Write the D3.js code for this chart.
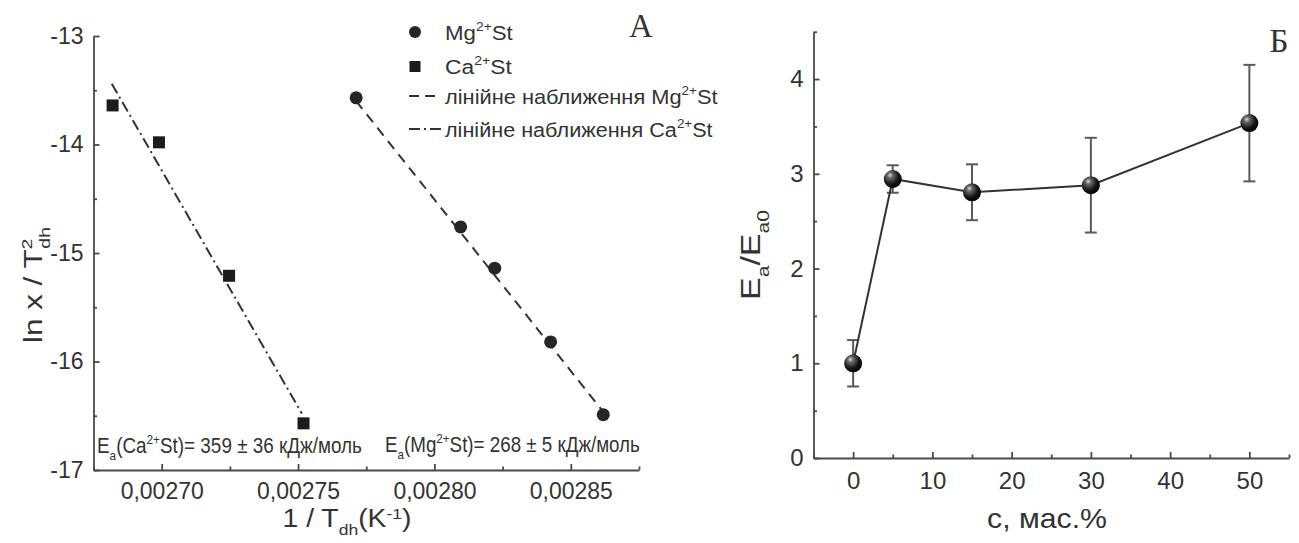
<!DOCTYPE html>
<html>
<head>
<meta charset="utf-8">
<script src="https://cdn.jsdelivr.net/npm/d3@7"></script>
<style>
  body { margin: 0; background: #fff; }
  svg { display: block; font-family: "Liberation Sans", Arial, sans-serif; }
  .axis path, .axis line { stroke: #4a4a4a; stroke-width: 1.8; }
  .axis text { fill: #333; font-family: "Liberation Sans", Arial, sans-serif; }
</style>
</head>
<body>
<script>
// panel A: ln x / T^2 vs 1/T
var caX = [0.002682, 0.002699, 0.0027247, 0.002752];
var caY = [-13.64, -13.98, -15.21, -16.57];
var mgX = [0.0027713, 0.0028096, 0.0028221, 0.0028426, 0.0028619];
var mgY = [-13.57, -14.76, -15.14, -15.82, -16.49];
// linear fit endpoints as drawn
var caFitX = [0.0026817, 0.0027514];
var caFitY = [-13.44, -16.48];
var mgFitX = [0.0027713, 0.0028618];
var mgFitY = [-13.60, -16.46];
var aXTicks = [0.0027, 0.00275, 0.0028, 0.00285];
var aXMinor = [0.002675, 0.002725, 0.002775, 0.002825, 0.002875];
var aYTicks = [-17, -16, -15, -14, -13];
var aYMinor = [-16.5, -15.5, -14.5, -13.5];

// panel Б: Ea/Ea0 vs concentration
var conc = [0, 5, 15, 30, 50];
var ratio = [1.0, 2.945, 2.805, 2.88, 3.535];
var ratioErr = [0.245, 0.145, 0.295, 0.50, 0.615];
var bXTicks = [0, 10, 20, 30, 40, 50];
var bXMinor = [-5, 5, 15, 25, 35, 45, 55];
var bYTicks = [0, 1, 2, 3, 4];
var bYMinor = [0.5, 1.5, 2.5, 3.5, 4.5];

var w = 1299, h = 543;
var svg = d3.select("body").append("svg").attr("width", w).attr("height", h);

var defs = svg.append("defs");
var grad = defs.append("radialGradient").attr("id", "ball")
    .attr("cx", "38%").attr("cy", "35%").attr("r", "70%").attr("fx", "35%").attr("fy", "28%");
grad.append("stop").attr("offset", "0%").attr("stop-color", "#dcdcdc");
grad.append("stop").attr("offset", "22%").attr("stop-color", "#6a6a6a");
grad.append("stop").attr("offset", "65%").attr("stop-color", "#141414");
grad.append("stop").attr("offset", "100%").attr("stop-color", "#000");

// text with sub/superscript parts, squeezed to a target width
function richText(x, y, rot, anchor, width, parts, size, family, supRaise) {
  var g = svg.append("g");
  var t = g.append("text").attr("text-anchor", anchor).attr("fill", "#333")
      .attr("font-size", size).attr("font-family", family || null);
  var off = 0;
  var up = supRaise || 0.42;
  parts.forEach(function(p) {
    var k = p[1];
    var target = k === "sub" ? size * 0.32 : k === "sup" ? -size * up : 0;
    var ts = t.append("tspan").attr("dy", target - off)
        .attr("font-size", k ? size * 0.62 : size).text(p[0]);
    if (p[2]) ts.attr("dx", p[2]);
    off = target;
  });
  var sx = 1;
  if (width) sx = width / t.node().getBBox().width;
  g.attr("transform", "translate(" + x + "," + y + ") rotate(" + rot + ") scale(" + sx + ",1)");
  return g;
}

// ---------- panel A ----------
var xA = d3.scaleLinear().domain([0.002675, 0.002875]).range([93.5, 639]);
var yA = d3.scaleLinear().domain([-17, -13]).range([470, 36]);

svg.append("g").attr("class", "axis").attr("transform", "translate(0,470)")
    .call(d3.axisBottom(xA).tickValues(aXTicks).tickSizeInner(-6).tickSizeOuter(0).tickPadding(13)
      .tickFormat(function(d) { return d3.format(".5f")(d).replace(".", ","); }))
    .call(function(g) { g.selectAll("text").attr("font-size", 23); });
svg.append("g").attr("class", "axis").attr("transform", "translate(0,470)")
    .call(d3.axisBottom(xA).tickValues(aXMinor).tickSizeInner(-3.5).tickSizeOuter(0).tickFormat(""))
    .select(".domain").remove();
svg.append("g").attr("class", "axis").attr("transform", "translate(93.5,0)")
    .call(d3.axisLeft(yA).tickValues(aYTicks).tickSizeInner(-6).tickSizeOuter(0).tickPadding(10)
      .tickFormat(function(d) { return String(d); }))
    .call(function(g) { g.selectAll("text").attr("font-size", 23); });
svg.append("g").attr("class", "axis").attr("transform", "translate(93.5,0)")
    .call(d3.axisLeft(yA).tickValues(aYMinor).tickSizeInner(-3.5).tickSizeOuter(0).tickFormat(""))
    .select(".domain").remove();

var lineA = d3.line().x(function(d) { return xA(d[0]); }).y(function(d) { return yA(d[1]); });
svg.append("path").datum(d3.zip(caFitX, caFitY)).attr("d", lineA)
    .attr("fill", "none").attr("stroke", "#333").attr("stroke-width", 2)
    .attr("stroke-dasharray", "11,4,2,4");
svg.append("path").datum(d3.zip(mgFitX, mgFitY)).attr("d", lineA)
    .attr("fill", "none").attr("stroke", "#333").attr("stroke-width", 2)
    .attr("stroke-dasharray", "10,7");

svg.selectAll(".ca").data(d3.zip(caX, caY)).enter().append("rect").attr("class", "ca")
    .attr("x", function(d) { return xA(d[0]) - 6; })
    .attr("y", function(d) { return yA(d[1]) - 6; })
    .attr("width", 12).attr("height", 12).attr("fill", "#1c1c1c");
svg.selectAll(".mg").data(d3.zip(mgX, mgY)).enter().append("circle").attr("class", "mg")
    .attr("cx", function(d) { return xA(d[0]); })
    .attr("cy", function(d) { return yA(d[1]); })
    .attr("r", 6.5).attr("fill", "#262626");

// legend
svg.append("circle").attr("cx", 415).attr("cy", 32).attr("r", 6).attr("fill", "#262626");
svg.append("rect").attr("x", 409.5).attr("y", 61).attr("width", 11).attr("height", 11).attr("fill", "#1c1c1c");
svg.append("line").attr("x1", 409).attr("x2", 440).attr("y1", 96).attr("y2", 96)
    .attr("stroke", "#333").attr("stroke-width", 2).attr("stroke-dasharray", "10,6");
svg.append("line").attr("x1", 409).attr("x2", 441).attr("y1", 129).attr("y2", 129)
    .attr("stroke", "#333").attr("stroke-width", 2).attr("stroke-dasharray", "11,4,2,4");
richText(445, 40, 0, "start", 68, [["Mg"], ["2+", "sup"], ["St"]], 21);
richText(445, 74, 0, "start", 67, [["Ca"], ["2+", "sup"], ["St"]], 21);
richText(445, 104, 0, "start", 273, [["лінійне наближення Mg"], ["2+", "sup"], ["St"]], 21);
richText(445, 137, 0, "start", 268, [["лінійне наближення Ca"], ["2+", "sup"], ["St"]], 21);

// annotations
richText(97, 453, 0, "start", 265, [["E"], ["a", "sub"], ["(Ca"], ["2+", "sup"], ["St)= 359 ± 36 кДж/моль"]], 22);
richText(385, 452, 0, "start", 255, [["E"], ["a", "sub"], ["(Mg"], ["2+", "sup"], ["St)= 268 ± 5 кДж/моль"]], 22);

// titles
richText(42, 285, -90, "middle", 116, [["ln x / T"], ["2", "sup"], ["dh", "sub", -8]], 25);
richText(347, 527, 0, "middle", 129, [["1 / T"], ["dh", "sub"], ["(K"], ["-1", "sup"], [")"]], 25, null, 0.32);
richText(641, 37, 0, "middle", null, [["А"]], 33, "Liberation Serif, DejaVu Serif, serif");

// ---------- panel Б ----------
var xB = d3.scaleLinear().domain([-5, 55]).range([813.5, 1289]);
var yB = d3.scaleLinear().domain([0, 4.5]).range([458, 31.7]);

svg.append("g").attr("class", "axis").attr("transform", "translate(0,458)")
    .call(d3.axisBottom(xB).tickValues(bXTicks).tickSizeInner(-6).tickSizeOuter(0).tickPadding(14)
      .tickFormat(function(d) { return String(d); }))
    .call(function(g) { g.selectAll("text").attr("font-size", 24); });
svg.append("g").attr("class", "axis").attr("transform", "translate(0,458)")
    .call(d3.axisBottom(xB).tickValues(bXMinor).tickSizeInner(-3.5).tickSizeOuter(0).tickFormat(""))
    .select(".domain").remove();
svg.append("g").attr("class", "axis").attr("transform", "translate(813.5,0)")
    .call(d3.axisLeft(yB).tickValues(bYTicks).tickSizeInner(-6).tickSizeOuter(0).tickPadding(10)
      .tickFormat(function(d) { return String(d); }))
    .call(function(g) { g.selectAll("text").attr("font-size", 24); });
svg.append("g").attr("class", "axis").attr("transform", "translate(813.5,0)")
    .call(d3.axisLeft(yB).tickValues(bYMinor).tickSizeInner(-3.5).tickSizeOuter(0).tickFormat(""))
    .select(".domain").remove();

var ptsB = conc.map(function(c, i) { return { c: c, v: ratio[i], e: ratioErr[i] }; });

var eb = svg.selectAll(".err").data(ptsB).enter().append("g").attr("class", "err")
    .attr("stroke", "#5a5a5a").attr("stroke-width", 2);
eb.append("line")
    .attr("x1", function(d) { return xB(d.c); }).attr("x2", function(d) { return xB(d.c); })
    .attr("y1", function(d) { return yB(d.v + d.e); }).attr("y2", function(d) { return yB(d.v - d.e); });
eb.append("line")
    .attr("x1", function(d) { return xB(d.c) - 6; }).attr("x2", function(d) { return xB(d.c) + 6; })
    .attr("y1", function(d) { return yB(d.v + d.e); }).attr("y2", function(d) { return yB(d.v + d.e); });
eb.append("line")
    .attr("x1", function(d) { return xB(d.c) - 6; }).attr("x2", function(d) { return xB(d.c) + 6; })
    .attr("y1", function(d) { return yB(d.v - d.e); }).attr("y2", function(d) { return yB(d.v - d.e); });

svg.append("path").datum(ptsB)
    .attr("d", d3.line().x(function(d) { return xB(d.c); }).y(function(d) { return yB(d.v); }))
    .attr("fill", "none").attr("stroke", "#333").attr("stroke-width", 2);

svg.selectAll(".ball").data(ptsB).enter().append("circle").attr("class", "ball")
    .attr("cx", function(d) { return xB(d.c); })
    .attr("cy", function(d) { return yB(d.v); })
    .attr("r", 9).attr("fill", "url(#ball)");

richText(760, 255, -90, "middle", 90, [["E"], ["a", "sub"], ["/E"], ["a0", "sub"]], 28);
richText(1047, 528, 0, "middle", 120, [["c, мас.%"]], 28);
richText(1279, 52, 0, "middle", null, [["Б"]], 33, "Liberation Serif, DejaVu Serif, serif");
</script>
</body>
</html>
